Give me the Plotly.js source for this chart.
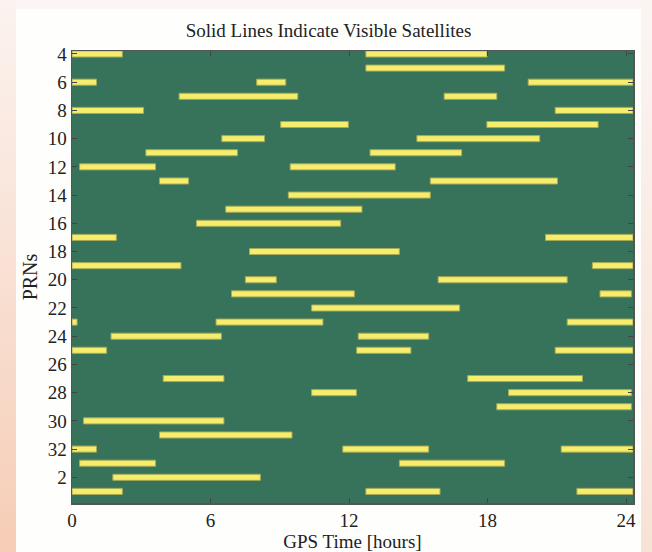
<!DOCTYPE html>
<html>
<head>
<meta charset="utf-8">
<script src="https://cdn.plot.ly/plotly-3.0.1.min.js"></script>
<style>
  html, body { margin: 0; padding: 0; width: 652px; height: 552px; overflow: hidden; background: #fbf6f3; }
  #leftstrip { position: absolute; left: 0; top: 0; width: 16px; height: 552px;
    background: linear-gradient(to bottom, #fbf3ef 0%, #f9e2d6 45%, #f6cdb6 100%); }
  #rightstrip { position: absolute; left: 641px; top: 0; width: 11px; height: 552px;
    background: linear-gradient(to bottom, #fbf5f2 0%, #f9ebe3 50%, #f8e2d6 100%); }
  #chart { position: absolute; left: 16px; top: 9px; width: 625px; height: 543px; }
</style>
</head>
<body>
<div id="leftstrip"></div>
<div id="rightstrip"></div>
<div id="chart"></div>
<script>
// Row order of PRNs, top to bottom
const prnOrder = [4,5,6,7,8,9,10,11,12,13,14,15,16,17,18,19,20,21,22,23,24,25,26,27,28,29,30,31,32,1,2,3];
// Y tick labels
const yTickLabels = [4,6,8,10,12,14,16,18,20,22,24,26,28,30,32,2];
// X ticks (hours)
const xTicks = [0,6,12,18,24];

// Visibility passes: PRN, start hour, end hour
const passPrn   = [4,4, 5, 6,6,6, 7,7, 8,8, 9,9, 10,10, 11,11, 12,12, 13,13, 14, 15, 16, 17,17, 18, 19,19, 20,20, 21,21, 22, 23,23,23, 24,24, 25,25,25, 27,27, 28,28, 29, 30, 31, 32,32,32, 1,1, 2, 3,3,3];
const passStart = [0,12.73, 12.73, 0,8.0,19.76, 4.64,16.12, 0,20.93, 9.04,17.97, 6.49,14.94, 3.20,12.91, 0.33,9.45, 3.79,15.52, 9.37, 6.66, 5.39, 0,20.51, 7.69, 0,22.54, 7.51,15.86, 6.91,22.87, 10.38, 0,6.24,21.45, 1.69,12.40, 0,12.33,20.93, 3.95,17.14, 10.38,18.91, 18.40, 0.50, 3.79, 0,11.73,21.19, 0.33,14.18, 1.77, 0,12.73,21.87];
const passEnd   = [2.18,17.98, 18.74, 1.06,9.26,24.3, 9.78,18.40, 3.10,24.3, 11.97,22.79, 8.34,20.26, 7.17,16.88, 3.62,14.0, 5.05,21.03, 15.52, 12.56, 11.64, 1.92,24.3, 14.18, 4.72,24.3, 8.85,21.45, 12.23,24.23, 16.79, 0.22,10.87,24.3, 6.47,15.45, 1.50,14.68,24.3, 6.58,22.11, 12.32,24.23, 24.23, 6.58, 9.53, 1.06,15.45,24.3, 3.62,18.74, 8.16, 2.18,15.94,24.3];

const yIdx = passPrn.map(p => prnOrder.indexOf(p));
const dur = passEnd.map((e, i) => e - passStart[i]);

const trace = {
  type: 'bar',
  orientation: 'h',
  y: yIdx,
  x: dur,
  base: passStart,
  width: 0.43,
  marker: { color: '#f6ed6c', line: { color: '#a8aa56', width: 1 } },
  hoverinfo: 'skip'
};

const fam = '"Liberation Serif", "Times New Roman", serif';
const font = { family: fam, color: '#222', size: 19 };

const layout = {
  width: 625, height: 543,
  margin: { l: 56, r: 8, t: 42, b: 49, pad: 0 },
  paper_bgcolor: '#fefefc',
  plot_bgcolor: '#36735a',
  barmode: 'overlay',
  showlegend: false,
  font: font,
  title: { text: 'Solid Lines Indicate Visible Satellites', font: { family: fam, size: 19, color: '#222' },
           x: 0.5, xanchor: 'center', y: 0.96, yanchor: 'middle' },
  xaxis: {
    range: [0, 24.3], tickvals: xTicks, ticktext: xTicks.map(String),
    ticks: 'inside', ticklen: 5, tickcolor: '#444', tickwidth: 1,
    showline: true, linecolor: '#555', linewidth: 1.5, mirror: 'ticks',
    showgrid: false, zeroline: false,
    tickfont: { family: fam, size: 19, color: '#222' },
    title: { text: 'GPS Time [hours]', font: { family: fam, size: 19, color: '#222' }, standoff: 1 }
  },
  yaxis: {
    range: [31.82, -0.21],
    tickvals: yTickLabels.map(p => prnOrder.indexOf(p)),
    ticktext: yTickLabels.map(String),
    ticks: 'inside', ticklen: 5, tickcolor: '#444', tickwidth: 1,
    showline: true, linecolor: '#555', linewidth: 1.5, mirror: 'ticks',
    showgrid: false, zeroline: false,
    tickfont: { family: fam, size: 19, color: '#222' },
    title: { text: 'PRNs', font: { family: fam, size: 20, color: '#222' }, standoff: 4 }
  }
};

Plotly.newPlot('chart', [trace], layout, { staticPlot: true, displayModeBar: false });
</script>
</body>
</html>
